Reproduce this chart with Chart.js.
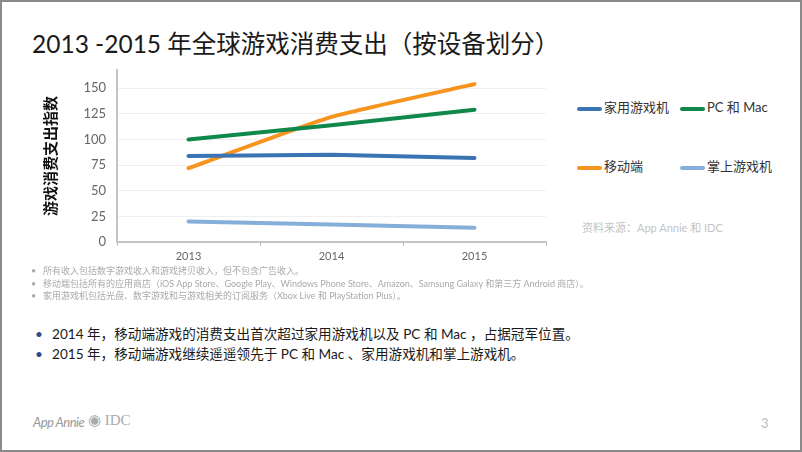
<!DOCTYPE html>
<html>
<head>
<meta charset="utf-8">
<script src="https://cdn.jsdelivr.net/npm/chart.js@4/dist/chart.umd.min.js"></script>
<style>
  html, body { margin: 0; padding: 0; }
  body { width: 802px; height: 452px; position: relative; overflow: hidden; background: #fff;
         font-family: Lato, "Noto Sans CJK SC", sans-serif; }
  .frame { position: absolute; left: 0; top: 0; width: 798px; height: 448px; border: 2px solid #8a8a8a; }
  .title { position: absolute; left: 32px; top: 25px; font-size: 24.5px; color: #1a1a1a; white-space: nowrap; }
  #wrap { position: absolute; left: 30px; top: 51px; width: 530px; height: 219px; }
  .legend { position: absolute; font-size: 13px; color: #333; white-space: nowrap; }
  .legend span.sw { display: inline-block; width: 25px; height: 4px; border-radius: 2px; vertical-align: middle; margin-right: 2px; }
  .source { position: absolute; left: 582px; top: 219px; font-size: 11px; color: #c4c4c4; white-space: nowrap; }
  .notes { position: absolute; left: 31px; top: 265px; font-size: 9px; color: #aaa; line-height: 12.5px; }
  .notes div { white-space: nowrap; }
  .notes b { font-weight: normal; display: inline-block; width: 12px; }
  .bullets { position: absolute; left: 35px; top: 324px; font-size: 13.6px; color: #1a1a1a; line-height: 20px; }
  .bullets div { white-space: nowrap; }
  .bullets b { font-weight: normal; color: #2a4f86; display: inline-block; width: 17px; }
  .logo1 { position: absolute; left: 33px; top: 414px; font-size: 13px; font-style: italic; color: #999; letter-spacing: -0.5px; }
  .logo2 { position: absolute; left: 88px; top: 411px; font-size: 15px; color: #aaa; font-family: "Liberation Serif", serif; }
  .page { position: absolute; left: 761px; top: 415px; font-size: 13px; color: #bbb; }
</style>
</head>
<body>
<div class="frame"></div>
<div class="title">2013 -2015 年全球游戏消费支出（按设备划分）</div>
<div id="wrap"><canvas id="chart"></canvas></div>
<div id="legend"></div>
<div class="source">资料来源：App Annie 和 IDC</div>
<div class="notes">
  <div><b>•</b>所有收入包括数字游戏收入和游戏拷贝收入，但不包含广告收入。</div>
  <div><b>•</b>移动端包括所有的应用商店（iOS App Store、Google Play、Windows Phone Store、Amazon、Samsung Galaxy 和第三方 Android 商店）。</div>
  <div><b>•</b>家用游戏机包括光盘、数字游戏和与游戏相关的订阅服务（Xbox Live 和 PlayStation Plus）。</div>
</div>
<div class="bullets">
  <div><b>•</b>2014 年，移动端游戏的消费支出首次超过家用游戏机以及 PC 和 Mac ，占据冠军位置。</div>
  <div><b>•</b>2015 年，移动端游戏继续遥遥领先于 PC 和 Mac 、家用游戏机和掌上游戏机。</div>
</div>
<div class="logo1">App Annie</div>
<div class="logo2">◉ IDC</div>
<div class="page">3</div>
<script>
const years = ['2013', '2014', '2015'];
const seriesNames = ['家用游戏机', 'PC 和 Mac', '移动端', '掌上游戏机'];
const seriesColors = ['#3b74b3', '#10884a', '#f7941d', '#85afd9'];
const consoleVals = [84, 85, 82];
const pcMacVals = [100, 114, 129];
const mobileVals = [72, 122, 154];
const handheldVals = [20, 17, 14];
const yTicks = [0, 25, 50, 75, 100, 125, 150];

const allVals = [consoleVals, pcMacVals, mobileVals, handheldVals];

// legend in a 2x2 grid
const legendPos = [[577, 97], [680, 97], [577, 156], [680, 156]];
const legendEl = document.getElementById('legend');
seriesNames.forEach((name, i) => {
  const d = document.createElement('div');
  d.className = 'legend';
  d.style.left = legendPos[i][0] + 'px';
  d.style.top = legendPos[i][1] + 'px';
  d.innerHTML = `<span class="sw" style="background:${seriesColors[i]}"></span>${name}`;
  legendEl.appendChild(d);
});

new Chart(document.getElementById('chart'), {
  type: 'line',
  data: {
    labels: years,
    datasets: seriesNames.map((name, i) => ({
      label: name,
      data: allVals[i],
      borderColor: seriesColors[i],
      backgroundColor: seriesColors[i],
      borderWidth: 4,
      borderCapStyle: 'round',
      pointRadius: 0,
      tension: i === 2 ? 0.15 : 0,
      fill: false
    }))
  },
  options: {
    responsive: true,
    maintainAspectRatio: false,
    animation: false,
    layout: { padding: { top: 1, right: 14, bottom: 0, left: 0 } },
    plugins: { legend: { display: false }, tooltip: { enabled: false } },
    scales: {
      x: {
        offset: true,
        grid: { offset: true, drawOnChartArea: false, tickLength: 4, color: '#bbb', lineWidth: 1 },
        border: { color: '#c4c4c4', width: 2 },
        ticks: { color: '#666', font: { family: 'Lato, "Noto Sans CJK SC"', size: 11 }, padding: 4 },
        afterFit: s => { s.height = 28; }
      },
      y: {
        min: 0,
        max: 168,
        afterBuildTicks: s => { s.ticks = yTicks.map(v => ({ value: v })); },
        grid: { color: '#efefef', drawTicks: false, lineWidth: 1 },
        border: { color: '#c4c4c4', width: 2 },
        ticks: { color: '#666', font: { family: 'Lato, "Noto Sans CJK SC"', size: 13 }, padding: 11 },
        title: {
          display: true,
          text: '游戏消费支出指数',
          color: '#111',
          font: { family: '"Noto Sans CJK SC"', size: 15, weight: 'bold' },
          padding: { top: 11, bottom: 0 }
        },
        afterFit: s => { s.width = 87; }
      }
    }
  }
});
</script>
</body>
</html>
